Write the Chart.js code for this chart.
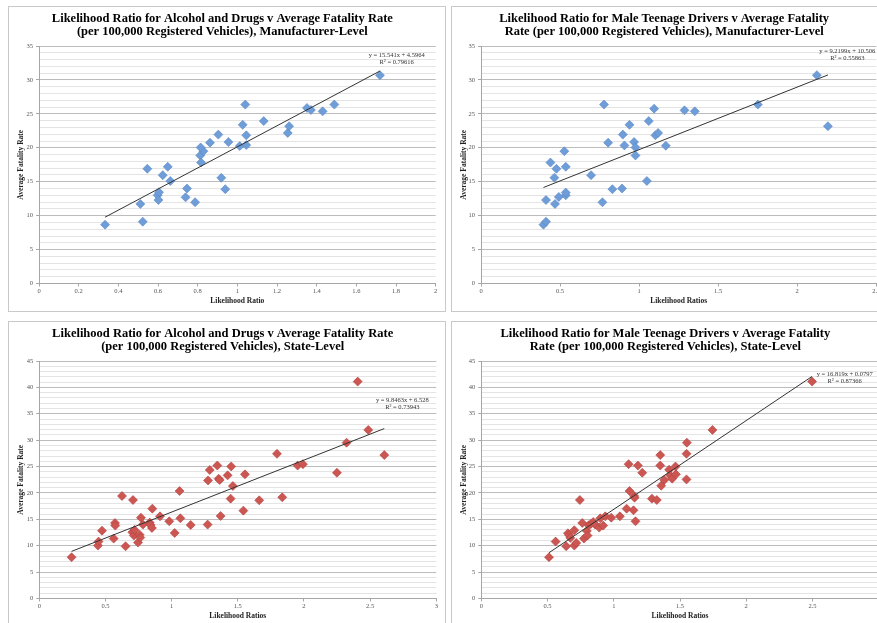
<!DOCTYPE html>
<html>
<head>
<meta charset="utf-8">
<title>Likelihood Ratio v Average Fatality Rate</title>
<script src="https://cdn.jsdelivr.net/npm/chart.js@4.4.1/dist/chart.umd.min.js"></script>
<style>
    html, body { margin: 0; padding: 0; background: #fff; }
    body { width: 877px; height: 623px; overflow: hidden; position: relative; }
    .panel { position: absolute; width: 436px; height: 304px; border: 1px solid #c9c9c9; background: #fff; }
    .panel canvas { display: block; }
    #p1 { left: 8px; top: 6px; }
    #p2 { left: 451px; top: 6px; }
    #p3 { left: 8px; top: 321px; }
    #p4 { left: 451px; top: 321px; }
</style>
</head>
<body>
<div class="panel" id="p1"><canvas id="c1" width="436" height="304"></canvas></div>
<div class="panel" id="p2"><canvas id="c2" width="436" height="304"></canvas></div>
<div class="panel" id="p3"><canvas id="c3" width="436" height="304"></canvas></div>
<div class="panel" id="p4"><canvas id="c4" width="436" height="304"></canvas></div>
<script>
'use strict';

// manufacturer level, alcohol and drugs
const alcMfrX = [0.333, 0.523, 0.511, 0.546, 0.598, 0.605, 0.602, 0.624, 0.649, 0.662, 0.739, 0.746, 0.787, 0.813, 0.817, 0.829, 0.919, 0.939,
    0.815, 0.862, 0.904, 0.955, 1.012, 1.045, 1.045, 1.027, 1.040, 1.133, 1.254, 1.261, 1.351, 1.371, 1.430, 1.489, 1.719];
const alcMfrY = [8.67, 9.11, 11.72, 16.9, 13.0, 13.45, 12.3, 15.96, 17.2, 15.1, 12.7, 14.0, 11.97, 18.87, 17.83, 19.5, 15.57, 13.9,
    20.05, 20.75, 21.94, 20.85, 20.25, 20.4, 21.84, 23.38, 26.37, 23.93, 22.19, 23.18, 25.87, 25.57, 25.37, 26.37, 30.7];

// manufacturer level, male teenage drivers
const teenMfrX = [0.395, 0.411, 0.411, 0.468, 0.492, 0.536, 0.536, 0.464, 0.439, 0.477, 0.536, 0.527, 0.696, 0.768, 0.831, 0.892, 0.977, 1.049,
    0.778, 0.804, 0.897, 0.907, 0.939, 0.968, 0.977, 1.061, 1.095, 1.103, 1.120, 1.169, 1.287, 1.352, 1.751, 2.124, 2.194];
const teenMfrY = [8.67, 9.11, 12.3, 11.72, 12.76, 13.0, 13.4, 15.6, 17.83, 16.9, 17.2, 19.5, 15.96, 11.97, 13.9, 14.0, 18.87, 15.1,
    26.37, 20.75, 21.94, 20.35, 23.38, 20.85, 20.05, 23.93, 25.77, 21.84, 22.19, 20.3, 25.52, 25.37, 26.37, 30.7, 23.18];

// state level, alcohol and drugs
const alcStateX = [0.244, 0.443, 0.448, 0.474, 0.562, 0.572, 0.574, 0.652, 0.625, 0.708, 0.703, 0.715, 0.720, 0.746, 0.758, 0.763, 0.768,
    0.783, 0.834, 0.841, 0.851, 0.854, 0.912, 0.982, 1.023, 1.060, 1.066, 1.144, 1.272, 1.275, 1.288, 1.345, 1.355, 1.363, 1.370,
    1.423, 1.446, 1.450, 1.463, 1.542, 1.554, 1.662, 1.836, 2.249, 1.796, 1.952, 1.992, 2.322, 2.406, 2.486, 2.607];
const alcStateY = [7.82, 10.03, 10.78, 12.86, 11.35, 14.31, 13.81, 9.9, 19.42, 18.66, 12.55, 11.92, 12.99, 10.59, 12.1, 11.54, 15.32,
    14.0, 14.38, 13.93, 13.37, 17.02, 15.57, 14.63, 12.42, 20.37, 15.2, 13.93, 14.0, 22.38, 24.35, 25.2, 22.7, 22.45, 15.64,
    23.33, 18.92, 25.02, 21.31, 16.65, 23.52, 18.6, 19.17, 23.83, 27.42, 25.19, 25.45, 29.52, 41.1, 31.94, 27.17];

// state level, male teenage drivers
const teenStateX = [0.511, 0.561, 0.641, 0.654, 0.664, 0.672, 0.702, 0.702, 0.717, 0.744, 0.762, 0.775, 0.797, 0.802, 0.810, 0.827, 0.845,
    0.860, 0.890, 0.898, 0.920, 0.936, 0.981, 1.046, 1.097, 1.119, 1.149, 1.154, 1.157, 1.164, 1.215, 1.288, 1.325, 1.358, 1.381,
    1.418, 1.426, 1.441, 1.469, 1.549, 1.112, 1.182, 1.351, 1.351, 1.466, 1.549, 1.552, 1.745, 2.497];
const teenStateY = [7.82, 10.78, 9.9, 12.36, 11.98, 11.48, 12.93, 10.03, 10.53, 18.66, 14.31, 11.35, 12.8, 11.92, 13.87, 14.12, 14.5,
    14.0, 13.43, 15.2, 13.81, 15.57, 15.32, 15.57, 17.02, 20.37, 16.71, 19.42, 19.1, 14.63, 23.83, 18.92, 18.66, 21.37, 22.45,
    24.4, 23.33, 22.7, 23.52, 22.57, 25.45, 25.19, 25.19, 27.17, 25.0, 27.42, 29.52, 31.94, 41.1];

// linear trendlines as printed on the charts
const trendSlopes = [15.541, 9.2199, 9.8463, 16.819];
const trendIntercepts = [4.5964, 10.506, 6.528, 0.0797];
const trendEquations = ['y = 15.541x + 4.5964', 'y = 9.2199x + 10.506', 'y = 9.8463x + 6.528', 'y = 16.819x + 0.0797'];
const trendR2 = ['R² = 0.79616', 'R² = 0.55863', 'R² = 0.73943', 'R² = 0.87366'];

const titles = [
    ['Likelihood Ratio for Alcohol and Drugs v Average Fatality Rate', '(per 100,000 Registered Vehicles), Manufacturer-Level'],
    ['Likelihood Ratio for Male Teenage Drivers v Average Fatality', 'Rate (per 100,000 Registered Vehicles), Manufacturer-Level'],
    ['Likelihood Ratio for Alcohol and Drugs v Average Fatality Rate', '(per 100,000 Registered Vehicles), State-Level'],
    ['Likelihood Ratio for Male Teenage Drivers v Average Fatality', 'Rate (per 100,000 Registered Vehicles), State-Level']
];
const xTitles = ['Likelihood Ratio', 'Likelihood Ratios', 'Likelihood Ratios', 'Likelihood Ratios'];
const yTitle = 'Average Fatality Rate';

// axis ranges
const xMaxes = [2, 2.5, 3, 3];
const xSteps = [0.2, 0.5, 0.5, 0.5];
const yMaxes = [35, 35, 45, 45];

const BLUE = '#6e9dd8', BLUE_EDGE = '#5a88c6';
const RED = '#cb5652', RED_EDGE = '#b5423e';
const SERIF = '"Liberation Serif", "Times New Roman", serif';

let trendLabel = {
    id: 'trendLabel',
    afterDatasetsDraw: function (chart, args, opts) {
        let a = chart.chartArea, ctx = chart.ctx;
        ctx.save();
        ctx.font = '6.5px ' + SERIF;
        ctx.fillStyle = '#333';
        ctx.textAlign = 'center';
        ctx.textBaseline = 'middle';
        ctx.fillText(opts.lines[0], a.right + opts.dx, a.top + opts.dy);
        ctx.fillText(opts.lines[1], a.right + opts.dx, a.top + opts.dy + 7);
        ctx.restore();
    }
};

let makeChart = function (i, xs, ys, color, edge, layout) {
    let points = xs.map((x, k) => ({ x: x, y: ys[k] }));
    let lo = Math.min.apply(null, xs), hi = Math.max.apply(null, xs);
    let trend = [lo, hi].map(x => ({ x: x, y: trendSlopes[i] * x + trendIntercepts[i] }));

    return new Chart(document.getElementById('c' + (i + 1)), {
        type: 'scatter',
        data: {
            datasets: [
                {
                    type: 'line',
                    data: trend,
                    borderColor: '#333',
                    borderWidth: 1,
                    pointRadius: 0,
                    fill: false,
                    order: 0
                },
                {
                    data: points,
                    pointStyle: 'rectRot',
                    pointRadius: 4.5,
                    backgroundColor: color,
                    borderColor: edge,
                    borderWidth: 0.6,
                    order: 1
                }
            ]
        },
        options: {
            responsive: false,
            animation: false,
            events: [],
            layout: { padding: { left: 0, right: layout.padRight, top: 0, bottom: 0 } },
            plugins: {
                legend: { display: false },
                tooltip: { enabled: false },
                title: {
                    display: true,
                    text: titles[i],
                    color: '#000',
                    font: { family: SERIF, size: 12.5, weight: 'bold', lineHeight: '13px' },
                    padding: { top: 5.5, bottom: 7.5 }
                },
                trendLabel: { lines: [trendEquations[i], trendR2[i]], dx: layout.labelDx, dy: layout.labelDy }
            },
            scales: {
                x: {
                    type: 'linear',
                    min: 0,
                    max: xMaxes[i],
                    afterFit: function (scale) { scale.height = 27.5; },
                    border: { color: '#a6a6a6' },
                    grid: { drawOnChartArea: false, drawTicks: true, tickLength: 3, tickColor: '#a6a6a6' },
                    ticks: {
                        stepSize: xSteps[i],
                        padding: 1,
                        color: '#555',
                        font: { family: SERIF, size: 6.5 },
                        maxRotation: 0,
                        autoSkip: false,
                        callback: v => String(+v.toFixed(2))
                    },
                    title: {
                        display: true,
                        text: xTitles[i],
                        color: '#222',
                        font: { family: SERIF, size: 7.5, weight: 'bold', lineHeight: '9px' },
                        padding: { top: 0, bottom: 5.8 }
                    }
                },
                y: {
                    min: 0,
                    max: yMaxes[i],
                    afterFit: function (scale) { scale.width = layout.yWidth; },
                    border: { color: '#a6a6a6' },
                    grid: {
                        color: c => c.tick.value % 5 === 0 ? '#bcbcbc' : '#e4e4e4',
                        tickColor: c => c.tick.value % 5 === 0 ? '#a6a6a6' : 'rgba(0,0,0,0)',
                        tickLength: 3
                    },
                    ticks: {
                        stepSize: 1,
                        maxTicksLimit: 100,
                        autoSkip: false,
                        padding: 3,
                        color: '#555',
                        font: { family: SERIF, size: 6.5 },
                        callback: v => v % 5 === 0 ? String(v) : ''
                    },
                    title: {
                        display: true,
                        text: yTitle,
                        color: '#222',
                        font: { family: SERIF, size: 7.5, weight: 'bold', lineHeight: '9px' },
                        padding: { top: 7.5, bottom: 0 }
                    }
                }
            }
        },
        plugins: [trendLabel]
    });
};

makeChart(0, alcMfrX, alcMfrY, BLUE, BLUE_EDGE, { yWidth: 30, padRight: 9.3, labelDx: -39, labelDy: 9.3 });
makeChart(1, teenMfrX, teenMfrY, BLUE, BLUE_EDGE, { yWidth: 29, padRight: 11.7, labelDx: -29, labelDy: 5 });
makeChart(2, alcStateX, alcStateY, RED, RED_EDGE, { yWidth: 30.3, padRight: 8.7, labelDx: -34, labelDy: 39.7 });
makeChart(3, teenStateX, teenStateY, RED, RED_EDGE, { yWidth: 29.3, padRight: 9.3, labelDx: -34, labelDy: 13 });
</script>
</body>
</html>
